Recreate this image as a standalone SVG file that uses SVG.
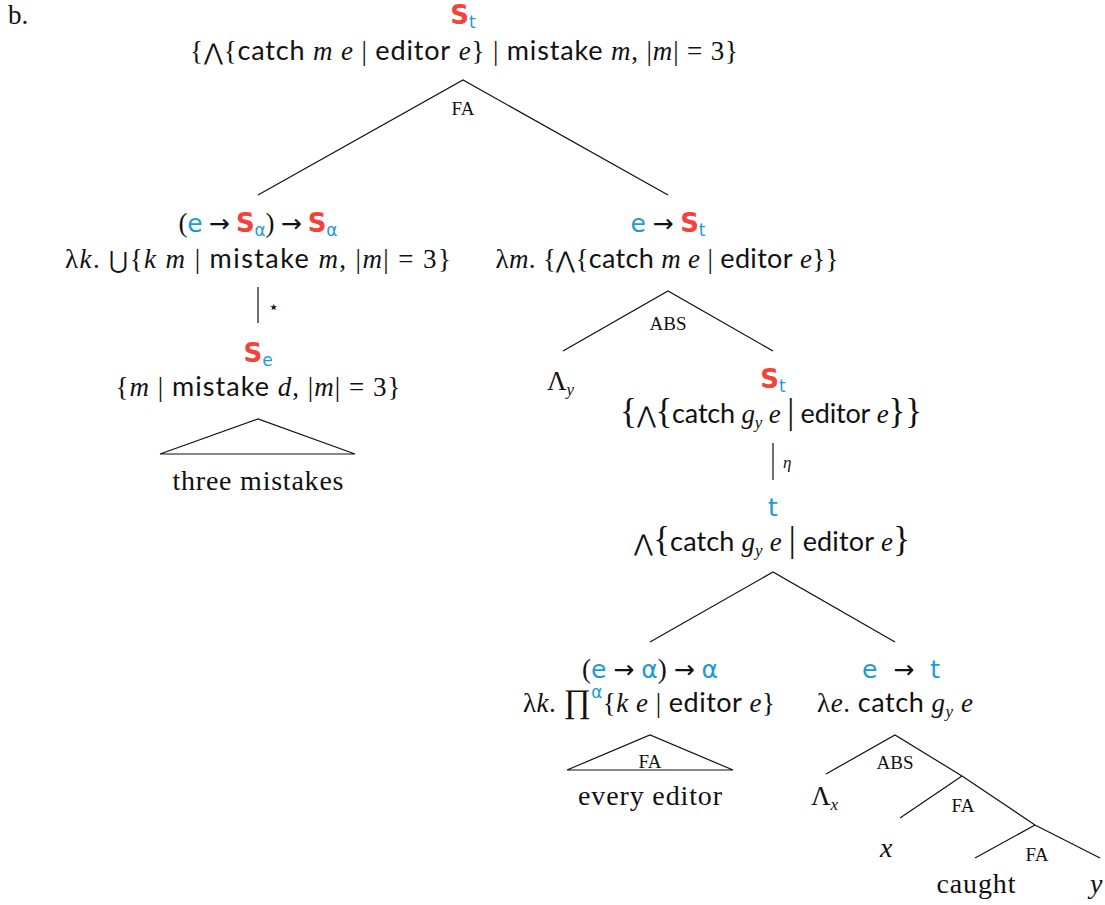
<svg xmlns="http://www.w3.org/2000/svg" width="1105" height="905" viewBox="0 0 1105 905">
<style>
text{font-family:"Liberation Serif","DejaVu Serif",serif;font-size:27px;fill:#111}
.w{font-size:28px}
.ss{font-family:Lato,"Open Sans",sans-serif}
.i{font-style:italic}
.S{font-family:"DejaVu Sans",sans-serif;font-weight:bold;fill:#f2433a;font-size:26px}
.T{font-family:"DejaVu Sans",sans-serif;fill:#1d9ad6;font-size:25px}
.sub{font-size:17px}
.lab{font-size:19px}
.m{font-family:"DejaVu Sans",sans-serif;font-size:23px;font-weight:300}
.ar{font-family:"DejaVu Sans",sans-serif;font-size:25px}
.big{font-size:35px}
line,polyline,polygon{stroke:#111;stroke-width:1.2;fill:none}
</style>
<text x="8" y="24">b.</text>
<g id="connectors">
<polyline points="258,195 463,80 668,195"/>
<line x1="258" y1="287" x2="258" y2="323"/>
<polygon points="160,454 258,419 355,454"/>
<polyline points="563,351 668,291 773,351"/>
<line x1="773" y1="443" x2="773" y2="480"/>
<polyline points="650,642 773,572 895,642"/>
<polygon points="567,770 650,735 733,770"/>
<polyline points="826,774 895,735 962,776 1035,825 1100,858"/>
<line x1="962" y1="776" x2="900" y2="818"/>
<line x1="1035" y1="825" x2="975" y2="858"/>
</g>
<g id="root">
<text x="463" y="24" text-anchor="middle"><tspan class="S">S</tspan><tspan class="T sub" dy="4">t</tspan></text>
<text x="464" y="60" text-anchor="middle" textLength="548" lengthAdjust="spacing">{<tspan class="m">⋀</tspan>{<tspan class="ss">catch</tspan> <tspan class="i">m e</tspan> | <tspan class="ss">editor</tspan> <tspan class="i">e</tspan>} | <tspan class="ss">mistake</tspan> <tspan class="i">m</tspan>, |<tspan class="i">m</tspan>| = 3}</text>
<text class="lab" x="463" y="115" text-anchor="middle">FA</text>
</g>
<g id="left">
<text x="258" y="232" text-anchor="middle" textLength="159" lengthAdjust="spacing">(<tspan class="T">e</tspan> <tspan class="ar">→</tspan> <tspan class="S">S</tspan><tspan class="T sub" dy="4">α</tspan><tspan dy="-4">) </tspan><tspan class="ar">→</tspan> <tspan class="S">S</tspan><tspan class="T sub" dy="4">α</tspan></text>
<text x="258" y="268" text-anchor="middle" textLength="386" lengthAdjust="spacing">λ<tspan class="i">k</tspan>. <tspan class="m">⋃</tspan>{<tspan class="i">k m</tspan> | <tspan class="ss">mistake</tspan> <tspan class="i">m</tspan>, |<tspan class="i">m</tspan>| = 3}</text>
<text x="268" y="313" style="font-size:18px">⋆</text>
</g>
<g id="left-set">
<text x="258" y="362" text-anchor="middle"><tspan class="S">S</tspan><tspan class="T sub" dy="4">e</tspan></text>
<text x="258" y="396" text-anchor="middle" textLength="285" lengthAdjust="spacing">{<tspan class="i">m</tspan> | <tspan class="ss">mistake</tspan> <tspan class="i">d</tspan>, |<tspan class="i">m</tspan>| = 3}</text>
</g>
<g id="three-mistakes">
<text class="w" x="258" y="490" text-anchor="middle" textLength="171" lengthAdjust="spacing">three mistakes</text>
</g>
<g id="right">
<text x="668" y="232" text-anchor="middle" textLength="75" lengthAdjust="spacing"><tspan class="T">e</tspan> <tspan class="ar">→</tspan> <tspan class="S">S</tspan><tspan class="T sub" dy="4">t</tspan></text>
<text x="667" y="268" text-anchor="middle" textLength="343" lengthAdjust="spacing">λ<tspan class="i">m</tspan>. {<tspan class="m">⋀</tspan>{<tspan class="ss">catch</tspan> <tspan class="i">m e</tspan> | <tspan class="ss">editor</tspan> <tspan class="i">e</tspan>}}</text>
<text class="lab" x="668" y="330" text-anchor="middle">ABS</text>
</g>
<g id="lambda-y">
<text x="547" y="390">Λ<tspan class="i sub" dy="5">y</tspan></text>
</g>
<g id="st-set">
<text x="773" y="388" text-anchor="middle"><tspan class="S">S</tspan><tspan class="T sub" dy="4">t</tspan></text>
<text x="771" y="423" text-anchor="middle" textLength="302" lengthAdjust="spacing"><tspan class="big">{</tspan><tspan class="m">⋀</tspan><tspan class="big">{</tspan><tspan class="ss">catch</tspan> <tspan class="i">g</tspan><tspan class="i sub" dy="5">y</tspan><tspan class="i" dy="-5"> e </tspan><tspan class="big">|</tspan> <tspan class="ss">editor</tspan> <tspan class="i">e</tspan><tspan class="big">}}</tspan></text>
<text x="783" y="468" class="i" style="font-size:17px">η</text>
</g>
<g id="t-node">
<text x="773" y="516" text-anchor="middle" class="T">t</text>
<text x="772" y="551" text-anchor="middle" textLength="276" lengthAdjust="spacing"><tspan class="m">⋀</tspan><tspan class="big">{</tspan><tspan class="ss">catch</tspan> <tspan class="i">g</tspan><tspan class="i sub" dy="5">y</tspan><tspan class="i" dy="-5"> e </tspan><tspan class="big">|</tspan> <tspan class="ss">editor</tspan> <tspan class="i">e</tspan><tspan class="big">}</tspan></text>
</g>
<g id="every">
<text x="650" y="678" text-anchor="middle" textLength="136" lengthAdjust="spacing">(<tspan class="T">e</tspan> <tspan class="ar">→</tspan> <tspan class="T">α</tspan>) <tspan class="ar">→</tspan> <tspan class="T">α</tspan></text>
<text x="649" y="712" text-anchor="middle" textLength="252" lengthAdjust="spacing">λ<tspan class="i">k</tspan>. <tspan style="font-size:33px">∏</tspan><tspan class="T sub" dy="-14">α</tspan><tspan dy="14">{</tspan><tspan class="i">k e</tspan> | <tspan class="ss">editor</tspan> <tspan class="i">e</tspan>}</text>
<text class="lab" x="650" y="768" text-anchor="middle">FA</text>
</g>
<g id="every-editor">
<text class="w" x="650" y="805" text-anchor="middle" textLength="144" lengthAdjust="spacing">every editor</text>
</g>
<g id="catch">
<text x="901" y="678" text-anchor="middle" textLength="78" lengthAdjust="spacing"><tspan class="T">e</tspan> <tspan class="ar">→</tspan> <tspan class="T">t</tspan></text>
<text x="895" y="712" text-anchor="middle" textLength="156" lengthAdjust="spacing">λ<tspan class="i">e</tspan>. <tspan class="ss">catch</tspan> <tspan class="i">g</tspan><tspan class="i sub" dy="5">y</tspan><tspan class="i" dy="-5"> e</tspan></text>
<text class="lab" x="895" y="769" text-anchor="middle">ABS</text>
</g>
<g id="lambda-x">
<text x="811" y="805">Λ<tspan class="i sub" dy="5">x</tspan></text>
</g>
<g id="fa1">
<text class="lab" x="963" y="812" text-anchor="middle">FA</text>
</g>
<g id="x">
<text x="880" y="857" class="i w">x</text>
</g>
<g id="fa2">
<text class="lab" x="1037" y="861" text-anchor="middle">FA</text>
</g>
<g id="caught">
<text class="w" x="976" y="893" text-anchor="middle" textLength="79" lengthAdjust="spacing">caught</text>
</g>
<g id="y">
<text x="1090" y="893" class="i w">y</text>
</g>
</svg>
